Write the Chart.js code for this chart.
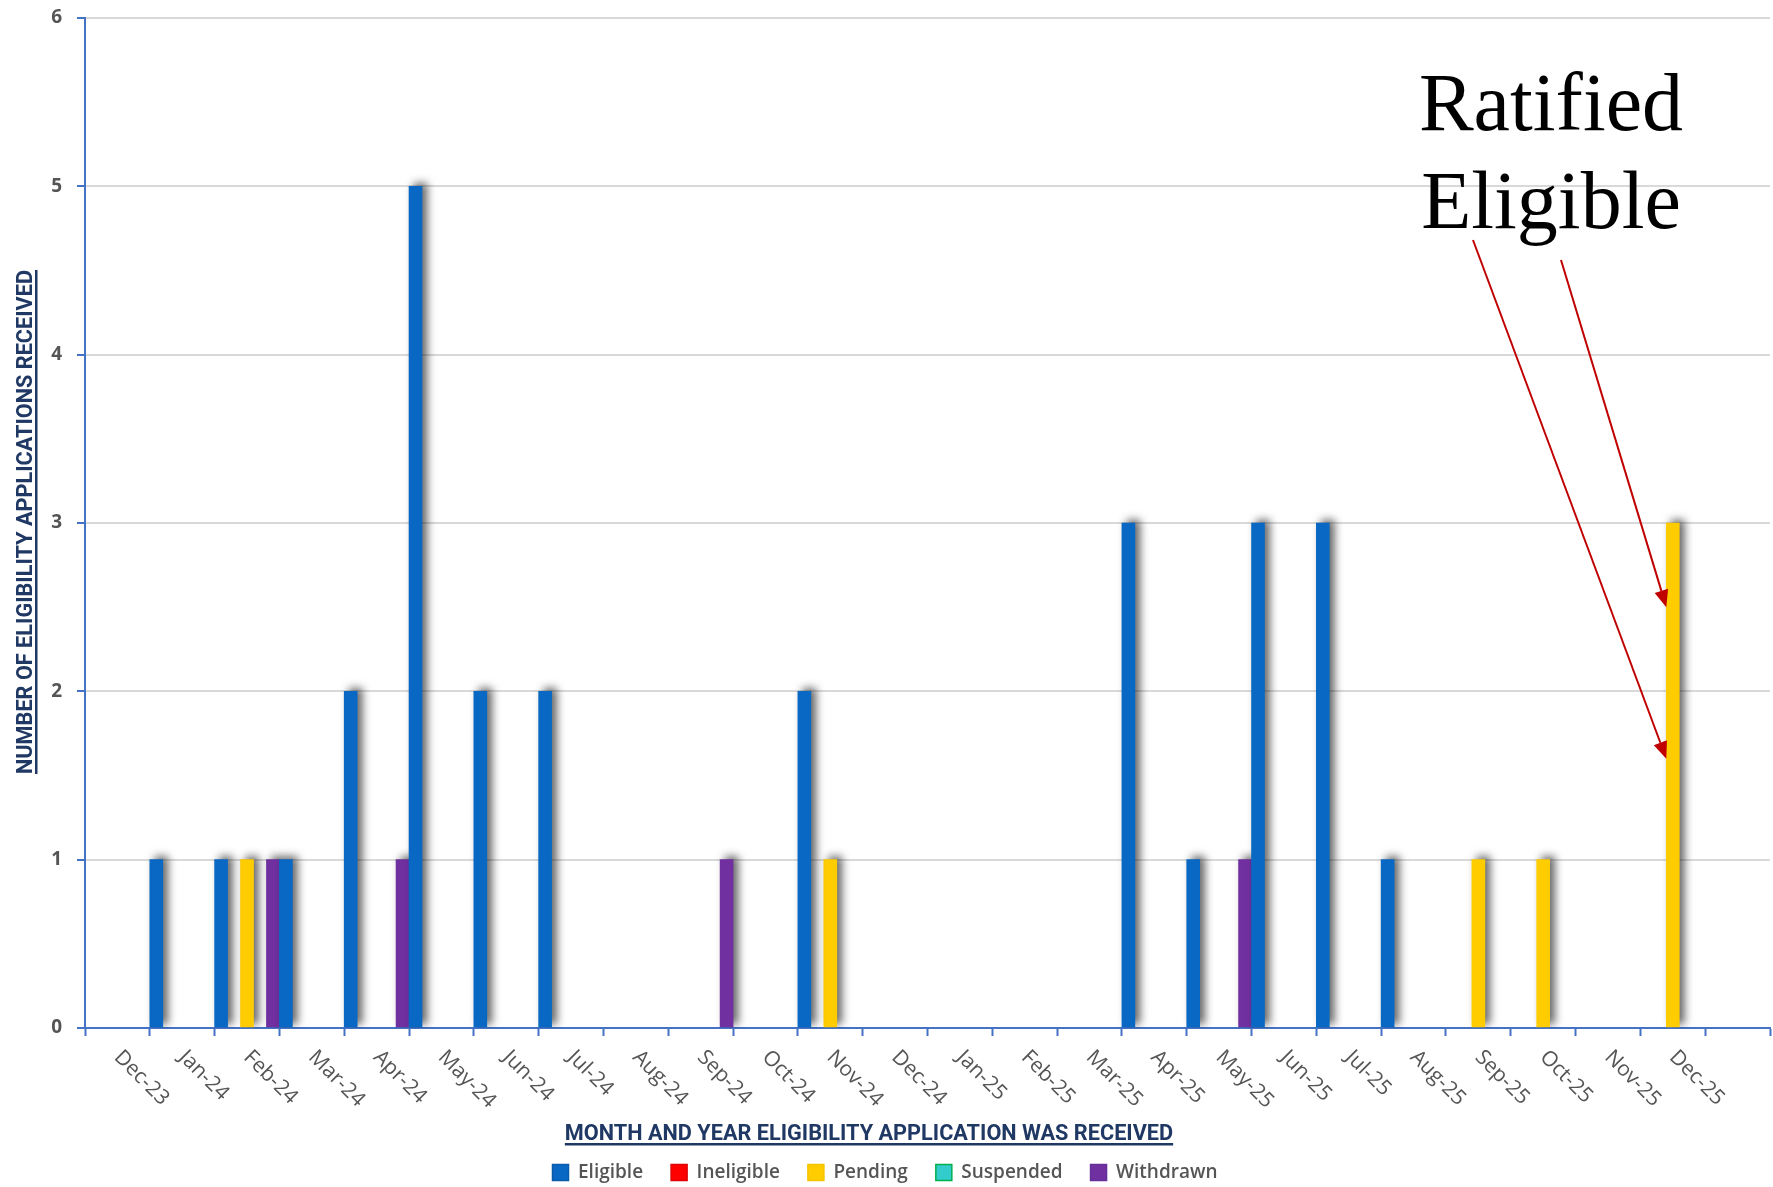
<!DOCTYPE html>
<html>
<head>
<meta charset="utf-8">
<title>Eligibility applications received</title>
<script src="https://cdn.jsdelivr.net/npm/chart.js@4.4.1/dist/chart.umd.min.js"></script>
<style>
  html, body { margin: 0; padding: 0; background: #ffffff; }
  #chart { display: block; }
</style>
</head>
<body>
<canvas id="chart" width="1773" height="1187"></canvas>
<script>
// Month labels (last category has no label in the original)
const months = ['Dec-23', 'Jan-24', 'Feb-24', 'Mar-24', 'Apr-24', 'May-24', 'Jun-24', 'Jul-24',
  'Aug-24', 'Sep-24', 'Oct-24', 'Nov-24', 'Dec-24', 'Jan-25', 'Feb-25', 'Mar-25', 'Apr-25',
  'May-25', 'Jun-25', 'Jul-25', 'Aug-25', 'Sep-25', 'Oct-25', 'Nov-25', 'Dec-25', ''];

// Counts per month, one list per status
const eligible   = [null, 1, 1, 1, 2, 5, 2, 2, null, null, null, 2, null, null, null, null, 3, 1, 3, 3, 1, null, null, null, null, null];
const ineligible = [null, null, null, null, null, null, null, null, null, null, null, null, null, null, null, null, null, null, null, null, null, null, null, null, null, null];
const pending    = [null, null, 1, null, null, null, null, null, null, null, null, 1, null, null, null, null, null, null, null, null, null, 1, 1, null, 3, null];
const suspended  = [null, null, null, null, null, null, null, null, null, null, null, null, null, null, null, null, null, null, null, null, null, null, null, null, null, null];
const withdrawn  = [null, null, 1, null, 1, null, null, null, null, 1, null, null, null, null, null, null, null, 1, null, null, null, null, null, null, null, null];

const yTicks = [0, 1, 2, 3, 4, 5, 6];

// where the two red arrows point on the Dec-25 pending bar
const arrowValues = [1.6, 2.5];
const noteLines = ['Ratified', 'Eligible'];

const xTitle = 'MONTH AND YEAR ELIGIBILITY APPLICATION WAS RECEIVED';
const yTitle = 'NUMBER OF ELIGIBILITY APPLICATIONS RECEIVED';

const AXIS_BLUE = '#4472C4';
const TITLE_NAVY = '#1F3864';
const LABEL_GREY = '#555555';

// legend swatch outlines
const legendEdges = ['#0A5BAA', '#E00000', '#F5C400', '#00B050', '#66309A'];

// soft drop shadow behind the columns, like the Excel style
const barShadow = {
  id: 'barShadow',
  beforeDatasetsDraw(chart) {
    const c = chart.ctx;
    c.save();
    c.shadowColor = 'rgba(0,0,0,0.6)';
    c.shadowBlur = 8;
    c.shadowOffsetX = 5;
    c.shadowOffsetY = -3;
  },
  afterDatasetsDraw(chart) {
    chart.ctx.restore();
  }
};

// rotated month labels, underlined axis titles, and the note with arrows
const extras = {
  id: 'extras',
  afterDraw(chart) {
    const c = chart.ctx;
    const xs = chart.scales.x;
    const ys = chart.scales.y;

    // month labels, reading downwards to the right
    c.save();
    c.font = '21px "Open Sans"';
    c.fillStyle = LABEL_GREY;
    c.textAlign = 'left';
    c.textBaseline = 'middle';
    chart.data.labels.forEach((lab, i) => {
      const x = xs.getPixelForTick(i);
      c.save();
      c.translate(x, xs.top + 26);
      c.rotate(Math.PI / 4);
      c.fillText(lab, 0, 0);
      c.restore();
    });
    c.restore();

    // x axis title
    c.save();
    c.font = 'bold 21.7px Roboto';
    c.fillStyle = TITLE_NAVY;
    c.textAlign = 'center';
    c.textBaseline = 'alphabetic';
    const tx = 869, ty = 1140;
    c.fillText(xTitle, tx, ty);
    let w = c.measureText(xTitle).width;
    c.fillRect(tx - w / 2, ty + 3, w, 2.5);
    c.restore();

    // y axis title
    c.save();
    c.font = 'bold 21.7px Roboto';
    c.fillStyle = TITLE_NAVY;
    c.textAlign = 'center';
    c.textBaseline = 'alphabetic';
    c.translate(32, 522);
    c.rotate(-Math.PI / 2);
    c.fillText(yTitle, 0, 0);
    w = c.measureText(yTitle).width;
    c.fillRect(-w / 2, 3, w, 2.5);
    c.restore();

    // note text
    c.save();
    c.font = '82px "Liberation Serif"';
    c.fillStyle = '#000000';
    c.textAlign = 'center';
    c.textBaseline = 'alphabetic';
    c.fillText(noteLines[0], 1551, 130);
    c.fillText(noteLines[1], 1551, 228);
    c.restore();

    // arrows to the Dec-25 pending bar
    const bar = chart.getDatasetMeta(2).data[24];
    const tipX = bar.x - bar.width / 2;
    const starts = [[1473, 240], [1561, 260]];
    c.save();
    c.strokeStyle = '#C00000';
    c.fillStyle = '#C00000';
    c.lineWidth = 2;
    arrowValues.forEach((v, i) => {
      const [sx, sy] = starts[i];
      const ex = tipX, ey = ys.getPixelForValue(v);
      const ang = Math.atan2(ey - sy, ex - sx);
      const len = 17, half = 7;
      const bx = ex - len * Math.cos(ang), by = ey - len * Math.sin(ang);
      c.beginPath();
      c.moveTo(sx, sy);
      c.lineTo(bx, by);
      c.stroke();
      c.beginPath();
      c.moveTo(ex, ey);
      c.lineTo(bx + half * Math.sin(ang), by - half * Math.cos(ang));
      c.lineTo(bx - half * Math.sin(ang), by + half * Math.cos(ang));
      c.closePath();
      c.fill();
    });
    c.restore();
  }
};

function series(label, data, fill) {
  return {
    label: label,
    data: data,
    backgroundColor: fill,
    borderWidth: 0,
    barPercentage: 1.0,
    categoryPercentage: 1.0
  };
}

const ctx = document.getElementById('chart').getContext('2d');
const chart = new Chart(ctx, {
  type: 'bar',
  data: {
    labels: months,
    datasets: [
      series('Eligible', eligible, '#0868C4'),
      series('Ineligible', ineligible, '#FF0000'),
      series('Pending', pending, '#FFCC00'),
      series('Suspended', suspended, '#33CCCC'),
      series('Withdrawn', withdrawn, '#7030A0')
    ]
  },
  options: {
    responsive: false,
    animation: false,
    layout: { padding: { left: 0, right: 3, top: 18, bottom: -5 } },
    plugins: {
      legend: {
        position: 'bottom',
        labels: {
          boxWidth: 16,
          boxHeight: 16,
          padding: 28,
          color: LABEL_GREY,
          font: { family: 'Open Sans', size: 19, weight: '600' },
          generateLabels: chart => {
            const items = Chart.defaults.plugins.legend.labels.generateLabels(chart);
            items.forEach((it, i) => {
              it.lineWidth = 1.5;
              it.strokeStyle = legendEdges[i];
            });
            return items;
          }
        }
      },
      tooltip: { enabled: false }
    },
    scales: {
      x: {
        grid: { drawOnChartArea: false, drawTicks: true, tickLength: 8, tickColor: AXIS_BLUE, tickWidth: 2, offset: true },
        border: { color: AXIS_BLUE, width: 2 },
        ticks: { display: false },
        afterFit: s => { s.height = 107; }
      },
      y: {
        min: yTicks[0],
        max: yTicks[yTicks.length - 1],
        afterBuildTicks: s => { s.ticks = yTicks.map(v => ({ value: v })); },
        ticks: {
          padding: 15,
          color: LABEL_GREY,
          font: { family: 'Open Sans', size: 19, weight: 'bold' }
        },
        grid: { color: '#D9D9D9', lineWidth: 2, tickColor: AXIS_BLUE, tickLength: 8, tickWidth: 2 },
        border: { color: AXIS_BLUE, width: 2 },
        afterFit: s => {
          s.width = 85;
          // the label padding would otherwise push the plot top down
          s.paddingTop = 0;
          s.paddingBottom = 0;
        }
      }
    }
  },
  plugins: [barShadow, extras]
});
</script>
</body>
</html>
